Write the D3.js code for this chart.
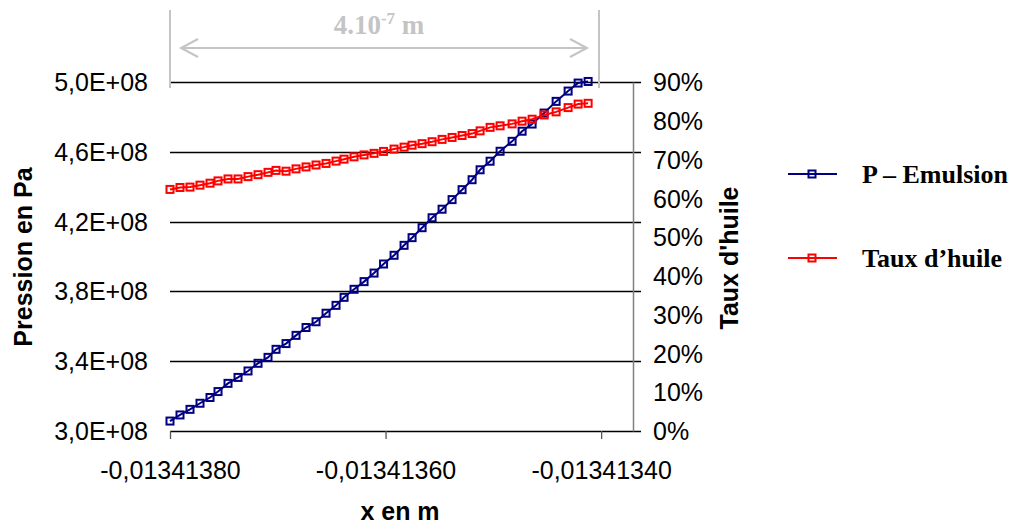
<!DOCTYPE html>
<html>
<head>
<meta charset="utf-8">
<script src="https://cdn.jsdelivr.net/npm/d3@7"></script>
<style>
  html, body { margin: 0; padding: 0; background: #fff; }
  svg { display: block; }
  .sans { font-family: "Liberation Sans", Arial, sans-serif; }
  .serif { font-family: "Liberation Serif", "Times New Roman", serif; }
</style>
</head>
<body>
<svg id="chart" width="1023" height="528"></svg>
<script>
// ---------------- data ----------------
const xValues = [
  -0.01341380000, -0.01341379072, -0.01341378144, -0.01341377216, -0.01341376288,
  -0.01341375545, -0.01341374617, -0.01341373689, -0.01341372761, -0.01341371833,
  -0.01341370905, -0.01341370162, -0.01341369234, -0.01341368306, -0.01341367378,
  -0.01341366450, -0.01341365522, -0.01341364594, -0.01341363851, -0.01341362923,
  -0.01341361995, -0.01341361067, -0.01341360185, -0.01341359211, -0.01341358283,
  -0.01341357540, -0.01341356612, -0.01341355684, -0.01341354756, -0.01341353828,
  -0.01341352900, -0.01341351972, -0.01341351229, -0.01341350301, -0.01341349373,
  -0.01341348259, -0.01341347331, -0.01341346403, -0.01341345289, -0.01341344175,
  -0.01341343062, -0.01341342134, -0.01341341206
];
const pressure = [
  3.057e8, 3.092e8, 3.124e8, 3.159e8, 3.192e8, 3.226e8, 3.273e8, 3.307e8, 3.344e8, 3.388e8,
  3.422e8, 3.468e8, 3.501e8, 3.548e8, 3.593e8, 3.626e8, 3.675e8, 3.720e8, 3.766e8, 3.812e8,
  3.856e8, 3.905e8, 3.957e8, 4.007e8, 4.064e8, 4.108e8, 4.165e8, 4.222e8, 4.271e8, 4.326e8,
  4.383e8, 4.440e8, 4.497e8, 4.546e8, 4.603e8, 4.660e8, 4.718e8, 4.759e8, 4.822e8, 4.889e8,
  4.948e8, 4.994e8, 5.003e8
];
const oilRate = [
  0.623, 0.628, 0.629, 0.634, 0.639, 0.645, 0.650, 0.650, 0.656, 0.661,
  0.667, 0.672, 0.670, 0.676, 0.681, 0.686, 0.690, 0.696, 0.701, 0.707,
  0.712, 0.716, 0.721, 0.727, 0.732, 0.737, 0.741, 0.746, 0.752, 0.757,
  0.762, 0.767, 0.774, 0.783, 0.787, 0.792, 0.799, 0.804, 0.815, 0.823,
  0.834, 0.843, 0.845
];
const seriesNames = ["P \u2013 Emulsion", "Taux d\u2019huile"];
const leftTicks = [3.0e8, 3.4e8, 3.8e8, 4.2e8, 4.6e8, 5.0e8];
const leftTickLabels = ["3,0E+08", "3,4E+08", "3,8E+08", "4,2E+08", "4,6E+08", "5,0E+08"];
const rightTicks = [0, 0.1, 0.2, 0.3, 0.4, 0.5, 0.6, 0.7, 0.8, 0.9];
const xTicks = [-0.0134138, -0.0134136, -0.0134134];
const xTickLabels = ["-0,01341380", "-0,01341360", "-0,01341340"];
const xDomain = [-0.0134138, -0.013413363];
const leftDomain = [3.0e8, 5.0e8];
const rightDomain = [0, 0.9];
const spanLabel = { base: "4.10", exp: "-7", unit: " m" };
const spanFrom = -0.0134138, spanTo = -0.01341340;

// ---------------- layout ----------------
const svg = d3.select("#chart");
svg.append("rect").attr("width", 1023).attr("height", 528).attr("fill", "#fff");

const L = 170, R = 641, T = 82, B = 431, axisRightX = 633;
const x = d3.scaleLinear().domain(xDomain).range([L, R]);
const yL = d3.scaleLinear().domain(leftDomain).range([B, T]);
const yR = d3.scaleLinear().domain(rightDomain).range([B, T]);

const blue = "#000080", red = "#ff0000", grey = "#c4c4c4";

// gridlines (left axis)
svg.append("g").selectAll("line").data(leftTicks).join("line")
  .attr("x1", L).attr("x2", R)
  .attr("y1", d => Math.round(yL(d)) + 0.5).attr("y2", d => Math.round(yL(d)) + 0.5)
  .attr("stroke", "#000").attr("stroke-width", 1.3);

// left tick labels
svg.append("g").attr("class", "sans").selectAll("text").data(leftTicks).join("text")
  .attr("x", 148).attr("y", d => yL(d) + 9)
  .attr("text-anchor", "end").attr("font-size", 25).attr("fill", "#000")
  .text((d, i) => leftTickLabels[i]);

// right axis
const rAxis = svg.append("g").attr("transform", `translate(${axisRightX},0)`)
  .call(d3.axisRight(yR).tickValues(rightTicks).tickSize(0).tickPadding(20)
    .tickFormat(d3.format(".0%")));
rAxis.select(".domain").attr("stroke", "#808080").attr("stroke-width", 1.5);
rAxis.selectAll("text").attr("class", "sans").attr("font-size", 25).attr("fill", "#000")
  .attr("font-family", "Liberation Sans, Arial, sans-serif").attr("dy", "0.35em");

// x axis
const xAxis = svg.append("g").attr("transform", `translate(0,${B})`)
  .call(d3.axisBottom(x).tickValues(xTicks).tickSize(8).tickPadding(22)
    .tickFormat((d, i) => xTickLabels[i]));
xAxis.select(".domain").remove();
xAxis.selectAll("line").attr("stroke", "#555").attr("stroke-width", 1.3);
xAxis.selectAll("text").attr("font-size", 25).attr("fill", "#000")
  .attr("font-family", "Liberation Sans, Arial, sans-serif");

// axis titles
svg.append("text").attr("class", "sans").attr("font-weight", "bold").attr("font-size", 25)
  .attr("text-anchor", "middle").attr("transform", "translate(32,257) rotate(-90)")
  .text("Pression en Pa");
svg.append("text").attr("class", "sans").attr("font-weight", "bold").attr("font-size", 25)
  .attr("text-anchor", "middle").attr("transform", "translate(738,258) rotate(-90)")
  .text("Taux d'huile");
svg.append("text").attr("class", "sans").attr("font-weight", "bold").attr("font-size", 25)
  .attr("text-anchor", "middle").attr("x", 400).attr("y", 520)
  .text("x en m");

// series
const idx = d3.range(xValues.length);
function drawSeries(vals, yScale, color) {
  const line = d3.line().x(i => x(xValues[i])).y(i => yScale(vals[i]));
  svg.append("path").datum(idx).attr("d", line)
    .attr("fill", "none").attr("stroke", color).attr("stroke-width", 2);
  svg.append("g").selectAll("rect").data(idx).join("rect")
    .attr("x", i => x(xValues[i]) - 3.5).attr("y", i => yScale(vals[i]) - 3.5)
    .attr("width", 7).attr("height", 7)
    .attr("fill", "none").attr("stroke", color).attr("stroke-width", 2);
}
drawSeries(pressure, yL, blue);
drawSeries(oilRate, yR, red);

// legend
const legend = [
  { name: seriesNames[0], color: blue, y: 174 },
  { name: seriesNames[1], color: red, y: 258 }
];
const lg = svg.append("g");
legend.forEach(d => {
  lg.append("line").attr("x1", 788).attr("x2", 837).attr("y1", d.y).attr("y2", d.y)
    .attr("stroke", d.color).attr("stroke-width", 2);
  lg.append("rect").attr("x", 812 - 3.5).attr("y", d.y - 3.5).attr("width", 7).attr("height", 7)
    .attr("fill", "none").attr("stroke", d.color).attr("stroke-width", 2);
  lg.append("text").attr("class", "serif").attr("font-weight", "bold").attr("font-size", 26)
    .attr("x", 862).attr("y", d.y + 9).text(d.name);
});

// span annotation (dimension line)
const ax1 = Math.round(x(spanFrom)), ax2 = Math.round(x(spanTo)) - 2;
const ann = svg.append("g").attr("stroke", grey).attr("stroke-width", 2).attr("fill", "none");
ann.append("line").attr("x1", ax1).attr("x2", ax1).attr("y1", 10).attr("y2", 88);
ann.append("line").attr("x1", ax2).attr("x2", ax2).attr("y1", 10).attr("y2", 88);
ann.append("line").attr("x1", ax1 + 11).attr("x2", ax2 - 12).attr("y1", 48).attr("y2", 48);
ann.append("path").attr("d", `M${ax1 + 28},39 L${ax1 + 11},48 L${ax1 + 28},57`);
ann.append("path").attr("d", `M${ax2 - 29},39 L${ax2 - 12},48 L${ax2 - 29},57`);
const at = svg.append("text").attr("class", "serif").attr("font-weight", "bold")
  .attr("font-size", 27).attr("fill", grey).attr("text-anchor", "middle")
  .attr("x", 379).attr("y", 34);
at.append("tspan").text(spanLabel.base);
at.append("tspan").attr("font-size", 17).attr("dy", -10).text(spanLabel.exp);
at.append("tspan").attr("dy", 10).text(spanLabel.unit);
</script>
</body>
</html>
